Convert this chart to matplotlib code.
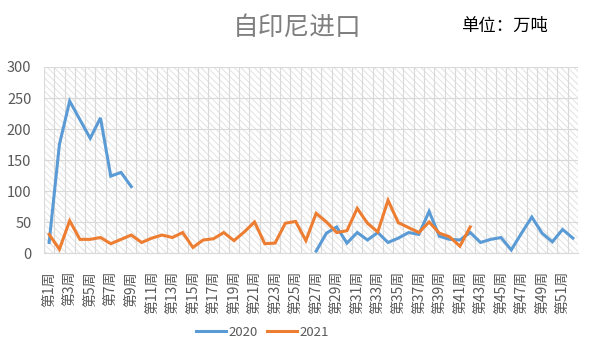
import matplotlib
matplotlib.use('Agg')
import matplotlib.pyplot as plt
import matplotlib.patches as mpatches
import numpy as np

plt.rcParams['font.family'] = ['Noto Sans CJK SC', 'DejaVu Sans']
plt.rcParams['hatch.linewidth'] = 0.7

# ─── Data (万吨, weekly) ─────────────────────────────────────────────────────
weeks = [f'第{i}周' for i in range(1, 53)]

# 2020: weeks 1-9, gap, weeks 27-52
imports_2020 = [17, 175, 245, 215, 185, 218, 124, 130, 107,
                None, None, None, None, None, None, None, None, None,
                None, None, None, None, None, None, None, None,
                3, 32, 42, 16, 33, 21, 33, 17, 24, 33, 30, 67, 27, 22,
                21, 33, 17, 22, 25, 5, 32, 58, 32, 18, 38, 24]

# 2021: weeks 1-42
imports_2021 = [30, 6, 52, 22, 22, 25, 15, 22, 29, 17, 24, 29, 25, 33,
                9, 21, 23, 33, 20, 34, 50, 15, 16, 48, 51, 20, 64, 50,
                33, 36, 72, 48, 34, 85, 49, 41, 33, 50, 32, 26, 11, 42]

SERIES = [('2020', imports_2020, '#5b9bd5'),
          ('2021', imports_2021, '#ed7d31')]

GRID = '#d9d9d9'
TEXT = '#595959'

fig = plt.figure(figsize=(5.97, 3.56), dpi=100)
ax = fig.add_axes([0.0737, 0.2893, 0.8945, 0.5225])

# hatched plot-area background
bg = mpatches.Rectangle((0, 0), 1, 1, transform=ax.transAxes,
                        facecolor='white', edgecolor='#e2e2e2',
                        hatch='\\\\\\\\\\', linewidth=0, zorder=0)
ax.add_patch(bg)

x = np.arange(1, len(weeks) + 1)
for name, vals, color in SERIES:
    y = np.array([np.nan if v is None else v for v in vals], dtype=float)
    ax.plot(x[:len(y)], y, color=color, lw=2.2, label=name,
            solid_joinstyle='miter', zorder=3)

ax.set_xlim(0.5, len(weeks) + 0.5)
ax.set_ylim(0, 300)
ax.set_yticks(range(0, 301, 50))

# labels on every other week
ax.set_xticks(x[::2])
ax.set_xticklabels(weeks[::2], rotation=90, fontsize=10, color=TEXT,
                   va='top', ha='center')
ax.set_xticks(np.arange(0.5, len(weeks) + 1, 1), minor=True)

ax.tick_params(axis='y', length=0, pad=9, labelsize=10.5, labelcolor=TEXT)
ax.tick_params(axis='x', which='both', length=0, pad=13)

ax.grid(axis='y', which='major', color=GRID, lw=0.8, zorder=1)
ax.grid(axis='x', which='minor', color=GRID, lw=0.8, zorder=1)
ax.set_axisbelow(True)
for s in ax.spines.values():
    s.set_visible(False)
ax.spines['bottom'].set_visible(True)
ax.spines['bottom'].set_color(GRID)

fig.text(0.498, 0.921, '自印尼进口', fontsize=18.5, color='#7f7f7f',
         ha='center', va='center')
fig.text(0.772, 0.927, '单位：万吨', fontsize=12.5, color='black',
         ha='left', va='center')

fig.legend(loc='center', bbox_to_anchor=(0.44, 0.067), ncol=2, frameon=False,
           fontsize=9.5, labelcolor=TEXT, handlelength=2.25,
           handletextpad=0.2, columnspacing=0.7)

fig.savefig('out.png', dpi=100)
